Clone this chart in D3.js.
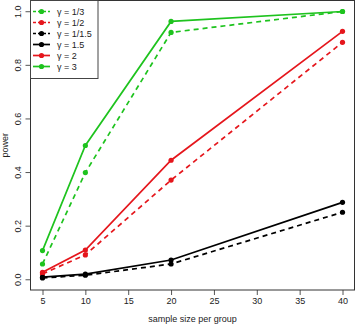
<!DOCTYPE html>
<html><head><meta charset="utf-8">
<script src="https://cdn.jsdelivr.net/npm/d3@7"></script>
<style>body{margin:0;background:#fff}svg{display:block}text{font-family:"Liberation Sans",Arial,sans-serif}</style>
</head><body>
<script>
const sampleSizes = [5, 10, 20, 40];
const gammaLabels = ["γ = 1/3", "γ = 1/2", "γ = 1/1.5", "γ = 1.5", "γ = 2", "γ = 3"];
const power_1_3  = [0.057, 0.398, 0.921, 0.999];
const power_1_2  = [0.020, 0.091, 0.370, 0.884];
const power_1_15 = [0.005, 0.015, 0.057, 0.250];
const power_15   = [0.008, 0.019, 0.072, 0.287];
const power_2    = [0.026, 0.109, 0.444, 0.925];
const power_3    = [0.107, 0.499, 0.962, 0.999];
const xTicks = [5, 10, 15, 20, 25, 30, 35, 40];
const yTicks = [0, 0.2, 0.4, 0.6, 0.8, 1.0];

const GREEN = "#1ec31e", RED = "#e5161c", BLACK = "#000";
const series = [
  {label: gammaLabels[0], values: power_1_3, color: GREEN, dashed: true},
  {label: gammaLabels[1], values: power_1_2, color: RED, dashed: true},
  {label: gammaLabels[2], values: power_1_15, color: BLACK, dashed: true},
  {label: gammaLabels[3], values: power_15, color: BLACK, dashed: false},
  {label: gammaLabels[4], values: power_2, color: RED, dashed: false},
  {label: gammaLabels[5], values: power_3, color: GREEN, dashed: false}
];

const W = 355, H = 325;
const L = 30.5, R = 354.5, T = 0.5, B = 290;
const svg = d3.select("body").append("svg").attr("width", W).attr("height", H);

const x = d3.scaleLinear().domain([5 - 1.4, 40 + 1.4]).range([L, R]);
const y = d3.scaleLinear().domain([-0.04, 1.04]).range([B, T]);

// axes
const xAxis = svg.append("g").attr("transform", `translate(0,${B})`)
  .call(d3.axisBottom(x).tickValues(xTicks).tickFormat(d3.format("d")).tickSize(5).tickPadding(3));
xAxis.select(".domain").remove();
xAxis.selectAll("line").attr("stroke", "#555");
xAxis.selectAll("text").attr("font-size", 9).attr("fill", "#222");

const yAxis = svg.append("g").attr("transform", `translate(${L},0)`)
  .call(d3.axisLeft(y).tickValues(yTicks).tickFormat(d3.format(".1f")).tickSize(5));
yAxis.select(".domain").remove();
yAxis.selectAll("line").attr("stroke", "#555");
yAxis.selectAll("text").attr("font-size", 9).attr("fill", "#222")
  .attr("text-anchor", "middle").attr("x", 0).attr("dy", 0)
  .attr("transform", "translate(-10,0) rotate(-90)").attr("y", 0);

// box
svg.append("rect").attr("x", L).attr("y", T).attr("width", R - L).attr("height", B - T)
  .attr("fill", "none").attr("stroke", "#333").attr("stroke-width", 1);

// axis titles
svg.append("text").attr("x", (L + R) / 2).attr("y", 321.5).attr("text-anchor", "middle")
  .attr("font-size", 9).attr("fill", "#222").text("sample size per group");
svg.append("text").attr("transform", `translate(7.5,${(T + B) / 2}) rotate(-90)`)
  .attr("text-anchor", "middle").attr("font-size", 9).attr("fill", "#222").text("power");

// lines
const line = d3.line().x((d, i) => x(sampleSizes[i])).y(d => y(d));
const g = svg.append("g");
series.forEach(s => {
  g.append("path").datum(s.values).attr("d", line).attr("fill", "none")
    .attr("stroke", s.color).attr("stroke-width", 1.7)
    .attr("stroke-dasharray", s.dashed ? "5,4" : null);
  g.selectAll(null).data(s.values).enter().append("circle")
    .attr("cx", (d, i) => x(sampleSizes[i])).attr("cy", d => y(d)).attr("r", 2.6)
    .attr("fill", s.color);
});

// legend
const lg = svg.append("g");
lg.append("rect").attr("x", L).attr("y", T).attr("width", 67.5).attr("height", 78)
  .attr("fill", "#fff").attr("stroke", "#444").attr("stroke-width", 1);
series.forEach((s, i) => {
  const yy = 11.5 + i * 11;
  lg.append("line").attr("x1", 33).attr("x2", 50).attr("y1", yy).attr("y2", yy)
    .attr("stroke", s.color).attr("stroke-width", 1.7)
    .attr("stroke-dasharray", s.dashed ? "3,2" : null);
  lg.append("circle").attr("cx", 41.5).attr("cy", yy).attr("r", 2.6).attr("fill", s.color);
  lg.append("text").attr("x", 57).attr("y", yy + 3.3).attr("font-size", 9).attr("fill", "#222").text(s.label);
});
</script>
</body></html>
